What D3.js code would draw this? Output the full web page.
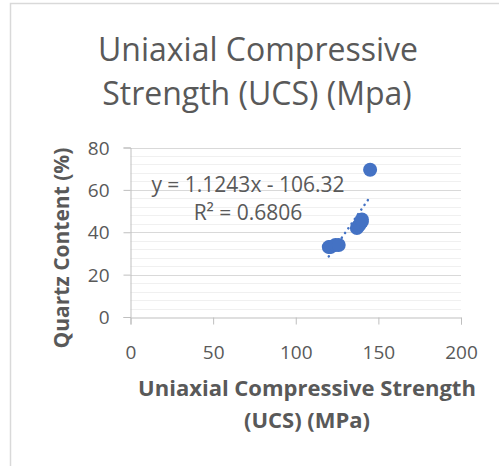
<!DOCTYPE html>
<html>
<head>
<meta charset="utf-8">
<script src="https://cdn.jsdelivr.net/npm/d3@7"></script>
<style>
  body { margin: 0; background: #fff; }
  svg { display: block; }
  text { font-family: "Open Sans", "Noto Sans", sans-serif; fill: #595959; }
</style>
</head>
<body>
<div id="chart"></div>
<script>
// UCS (MPa) vs quartz content (%)
const ucs = [120, 121, 124, 126, 137, 138, 139, 140, 140, 145];
const quartz = [33, 33, 34, 34, 42, 43, 44, 45, 46, 69.5];
const xTicks = [0, 50, 100, 150, 200];
const yTicks = [0, 20, 40, 60, 80];
const slope = 1.1243, intercept = -106.32, r2 = 0.6806;

const width = 499, height = 466;
const svg = d3.select('#chart').append('svg').attr('width', width).attr('height', height);

// chart frame (only top and left edges visible)
svg.append('path')
   .attr('d', 'M10.5,' + height + ' L10.5,3.5 L' + width + ',3.5')
   .attr('fill', 'none')
   .attr('stroke', '#d9d9d9')
   .attr('stroke-width', 1.5);

const x = d3.scaleLinear().domain([0, 200]).range([130.5, 461]);
const y = d3.scaleLinear().domain([0, 80]).range([317, 147.5]);

// minor gridlines
svg.append('g').selectAll('line')
   .data(d3.range(0, 81, 4).filter(d => d % 20 !== 0))
   .enter().append('line')
   .attr('x1', x(0)).attr('x2', x(200))
   .attr('y1', d => Math.round(y(d)) + 0.5).attr('y2', d => Math.round(y(d)) + 0.5)
   .attr('stroke', '#f0f0f0').attr('stroke-width', 1);

// major gridlines
svg.append('g').selectAll('line')
   .data(yTicks.filter(d => d > 0))
   .enter().append('line')
   .attr('x1', x(0)).attr('x2', x(200))
   .attr('y1', d => Math.round(y(d)) + 0.5).attr('y2', d => Math.round(y(d)) + 0.5)
   .attr('stroke', '#d9d9d9').attr('stroke-width', 1);

// axes
const xAxis = svg.append('g')
   .attr('transform', 'translate(0,' + (Math.round(y(0)) + 0.5) + ')')
   .call(d3.axisBottom(x).tickValues(xTicks).tickSize(7).tickPadding(21));
const yAxis = svg.append('g')
   .attr('transform', 'translate(' + x(0) + ',0)')
   .call(d3.axisLeft(y).tickValues(yTicks).tickSize(7).tickPadding(14));

[xAxis, yAxis].forEach(a => {
    a.select('.domain').attr('stroke', '#bfbfbf');
    a.selectAll('.tick line').attr('stroke', '#bfbfbf');
    a.selectAll('.tick text')
     .style('font-size', '19px')
     .style('fill', '#595959')
     .attr('font-family', null);
});
yAxis.selectAll('.tick text').attr('dy', '0.35em');

// trendline
const xmin = d3.min(ucs), xmax = d3.max(ucs);
svg.append('line')
   .attr('x1', x(xmin)).attr('y1', y(slope * xmin + intercept))
   .attr('x2', x(xmax)).attr('y2', y(slope * xmax + intercept))
   .attr('stroke', '#4472c4')
   .attr('stroke-width', 2.5)
   .attr('stroke-linecap', 'round')
   .attr('stroke-dasharray', '0.1 5.6');

// points
svg.append('g').selectAll('circle')
   .data(ucs.map((d, i) => [d, quartz[i]]))
   .enter().append('circle')
   .attr('cx', d => x(d[0]))
   .attr('cy', d => y(d[1]))
   .attr('r', 7)
   .style('fill', '#4472c4');

// equation
svg.append('text')
   .attr('x', 248).attr('y', 192)
   .attr('text-anchor', 'middle')
   .style('font-size', '21px')
   .text('y = ' + slope + 'x - ' + Math.abs(intercept));
svg.append('text')
   .attr('x', 248).attr('y', 220)
   .attr('text-anchor', 'middle')
   .style('font-size', '21px')
   .text('R² = ' + r2);

// title
svg.append('text')
   .attr('x', 258).attr('y', 61)
   .attr('text-anchor', 'middle')
   .style('font-size', '32px')
   .text('Uniaxial Compressive');
svg.append('text')
   .attr('x', 257).attr('y', 105)
   .attr('text-anchor', 'middle')
   .style('font-size', '32px')
   .text('Strength (UCS) (Mpa)');

// axis titles
svg.append('text')
   .attr('transform', 'translate(69,248) rotate(-90)')
   .attr('text-anchor', 'middle')
   .style('font-size', '21px')
   .style('font-weight', 'bold')
   .text('Quartz Content (%)');
svg.append('text')
   .attr('x', 307).attr('y', 396)
   .attr('text-anchor', 'middle')
   .style('font-size', '22px')
   .style('font-weight', 'bold')
   .text('Uniaxial Compressive Strength');
svg.append('text')
   .attr('x', 307).attr('y', 428)
   .attr('text-anchor', 'middle')
   .style('font-size', '22px')
   .style('font-weight', 'bold')
   .text('(UCS) (MPa)');
</script>
</body>
</html>
